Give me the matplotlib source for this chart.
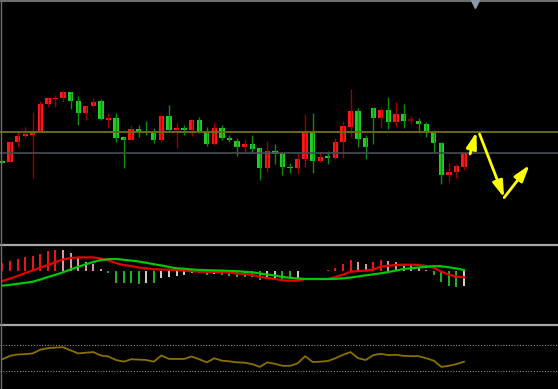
import matplotlib
matplotlib.use("Agg")
import matplotlib.pyplot as plt
from matplotlib.lines import Line2D
import numpy as np

# daily candles (red = up, green = down)
opens = [21.97, 21.90, 22.89, 23.20, 23.27, 23.44, 24.79, 25.05, 25.09, 25.39,
         24.97, 24.37, 24.70, 24.97, 24.02, 24.09, 23.14, 22.99, 23.55, 23.42,
         23.35, 22.99, 24.20, 23.52, 23.62, 23.50, 24.00, 23.40, 22.80, 23.59,
         23.12, 22.95, 22.67, 22.79, 22.59, 21.59, 22.45, 22.34, 21.67, 21.59,
         22.04, 23.42, 21.95, 22.22, 22.12, 22.92, 23.67, 24.47, 23.09, 24.59,
         24.09, 24.50, 23.92, 24.29, 24.02, 23.97, 23.82, 23.42, 22.87, 21.25,
         21.39, 21.67]
highs = [21.99, 22.90, 23.42, 23.67, 24.42, 24.97, 25.09, 25.25, 25.50, 25.42,
         25.20, 24.70, 25.12, 25.05, 24.37, 24.37, 23.17, 23.75, 23.75, 23.95,
         23.59, 24.29, 24.75, 23.89, 23.75, 24.00, 24.14, 23.67, 23.92, 23.75,
         23.25, 23.09, 23.05, 23.25, 22.59, 22.95, 22.80, 22.39, 21.84, 22.34,
         24.29, 24.37, 22.42, 22.45, 23.09, 23.95, 25.55, 24.59, 23.25, 24.67,
         24.67, 25.14, 24.92, 24.79, 24.22, 24.12, 23.89, 23.50, 22.92, 21.87,
         21.82, 22.42]
lows = [21.85, 21.90, 22.64, 23.09, 21.12, 23.44, 24.65, 24.65, 24.92, 24.54,
        23.75, 24.00, 24.65, 23.99, 23.62, 22.92, 21.62, 22.99, 23.14, 23.25,
        22.84, 22.92, 23.42, 22.59, 23.25, 23.20, 23.34, 22.72, 22.75, 23.00,
        22.92, 22.22, 22.42, 22.34, 21.00, 21.39, 21.79, 21.25, 21.37, 21.29,
        21.67, 21.34, 21.89, 21.82, 22.05, 22.12, 23.17, 22.67, 22.04, 22.79,
        23.59, 23.55, 23.67, 23.59, 23.79, 23.34, 23.17, 22.34, 20.79, 20.92,
        21.12, 21.50]
closes = [21.87, 22.90, 23.20, 23.30, 23.47, 24.80, 25.09, 25.12, 25.39, 24.97,
          24.37, 24.70, 24.90, 24.04, 24.10, 23.12, 22.99, 23.55, 23.40, 23.35,
          22.99, 24.20, 23.50, 23.62, 23.52, 24.00, 23.42, 22.80, 23.59, 23.09,
          22.99, 22.67, 22.79, 22.55, 21.59, 22.45, 22.29, 21.64, 21.62, 22.05,
          23.42, 21.95, 22.17, 22.12, 22.92, 23.70, 24.47, 23.05, 22.64, 24.09,
          24.50, 23.92, 24.29, 23.97, 24.02, 23.80, 23.42, 22.84, 21.25, 21.39,
          21.70, 22.34]

level_upper = 23.42
level_lower = 22.335

# MACD
dif = [-0.097, -0.072, -0.047, -0.017, 0.008, 0.038, 0.063, 0.093, 0.118, 0.133,
       0.138, 0.140, 0.138, 0.128, 0.108, 0.083, 0.063, 0.053, 0.038, 0.028,
       0.020, 0.018, 0.015, 0.013, 0.008, 0.001, -0.004, -0.005, -0.007, -0.009,
       -0.012, -0.022, -0.027, -0.037, -0.057, -0.067, -0.077, -0.090, -0.094, -0.094,
       -0.077, -0.077, -0.077, -0.077, -0.057, -0.034, -0.004, 0.003, 0.006, 0.020,
       0.046, 0.056, 0.063, 0.066, 0.066, 0.063, 0.053, 0.036, -0.004, -0.034,
       -0.054, -0.060]
dea = [-0.144, -0.135, -0.125, -0.115, -0.104, -0.082, -0.057, -0.035, -0.010, 0.018,
       0.045, 0.070, 0.093, 0.113, 0.121, 0.123, 0.115, 0.107, 0.098, 0.085,
       0.071, 0.058, 0.043, 0.030, 0.025, 0.019, 0.013, 0.011, 0.009, 0.007,
       0.004, 0.001, -0.005, -0.011, -0.022, -0.032, -0.042, -0.057, -0.065, -0.072,
       -0.077, -0.077, -0.077, -0.077, -0.075, -0.070, -0.062, -0.052, -0.040, -0.030,
       -0.020, -0.007, 0.008, 0.023, 0.030, 0.038, 0.045, 0.051, 0.050, 0.040,
       0.028, 0.013]
hist = [0.086, 0.106, 0.123, 0.140, 0.153, 0.173, 0.203, 0.213, 0.210, 0.180,
        0.130, 0.096, 0.073, 0.023, -0.017, -0.114, -0.118, -0.120, -0.122, -0.120,
        -0.121, -0.070, -0.060, -0.047, -0.037, -0.020, -0.021, -0.037, -0.030, -0.037,
        -0.047, -0.054, -0.055, -0.060, -0.087, -0.070, -0.065, -0.080, -0.081, -0.070,
        0.002, 0.003, 0.005, 0.017, 0.036, 0.073, 0.113, 0.096, 0.073, 0.090,
        0.113, 0.106, 0.090, 0.073, 0.063, 0.040, 0.013, -0.037, -0.104, -0.147,
        -0.160, -0.147]

# lower oscillator with 80 / 20 guide lines
osc = [47.6, 55.7, 58.9, 59.7, 61.4, 70.3, 73.5, 75.1, 75.9, 68.6,
       61.4, 63.0, 64.6, 56.5, 54.1, 45.9, 41.9, 47.6, 46.8, 45.9,
       41.9, 56.5, 48.4, 48.4, 48.4, 54.1, 47.6, 40.3, 50.0, 44.3,
       42.7, 40.3, 39.5, 36.2, 29.7, 40.3, 37.0, 32.2, 32.2, 37.8,
       54.9, 41.1, 41.9, 43.5, 50.0, 58.1, 64.6, 50.0, 45.9, 57.3,
       60.5, 57.3, 58.1, 55.7, 54.9, 54.9, 50.0, 44.3, 29.7, 32.2,
       36.2, 41.9]
osc_levels = [80, 20]

# hand-drawn yellow arrows (candle index, price)
arrows = [((61.8, 22.30), (62.65, 23.40)),
          ((63.05, 23.30), (66.3, 20.12)),
          ((66.3, 20.12), (69.65, 21.75))]

W, H = 558, 389
fig = plt.figure(figsize=(W / 100, H / 100), dpi=100, facecolor="black")


def box(top, bottom):
    return [0, 1 - bottom / H, 1, (bottom - top) / H]


ax = fig.add_axes(box(0, 244))
ax_macd = fig.add_axes(box(246, 324))
ax_osc = fig.add_axes(box(326, 389))
for a in (ax, ax_macd, ax_osc):
    a.set_facecolor("black")
    a.set_xlim(-0.33, 73.42)
    a.axis("off")

# candles
x = np.arange(len(opens))
o, h, l, c = map(np.array, (opens, highs, lows, closes))
up = c >= o
for i in x:
    body = "#ff1a1a" if up[i] else "#26cc26"
    wick = "#9a0000" if up[i] else "#0c8a0c"
    ax.vlines(i, l[i], h[i], color=wick, lw=1)
    if abs(c[i] - o[i]) < 0.02:
        ax.hlines(o[i], i - 0.35, i + 0.35, color=wick, lw=1.2)
    else:
        ax.bar(i, abs(c[i] - o[i]), bottom=min(o[i], c[i]), width=0.7,
               color=body, linewidth=0)
ax.axhline(level_upper, color="#6a6a14", lw=1.4)
ax.axhline(level_lower, color="#474c56", lw=1.2)
ax.set_ylim(17.8, 30)

for start, end in arrows:
    ax.annotate("", xy=end, xytext=start,
                arrowprops=dict(arrowstyle="-|>,head_length=0.7,head_width=0.22",
                                color="#ffff00", lw=2, shrinkA=0, shrinkB=0,
                                mutation_scale=14))

ax.plot([0, 1], [0.994, 0.994], transform=ax.transAxes, color="#6e6e6e", lw=1.5)
ax.plot(0.852, 0.982, marker="v", ms=6, color="#8a98a8",
        transform=ax.transAxes, clip_on=False)

# MACD
hv = np.array(hist)
prev = np.concatenate([[hv[0]], hv[:-1]])
cols = []
for v, p in zip(hv, prev):
    if v >= 0:
        cols.append("#ff1a1a" if v >= p else "#f2a8b4")
    else:
        cols.append("#26c426" if v <= p else "#e2e2e2")
ax_macd.vlines(x, 0, hv, colors=cols, lw=1.3)
ax_macd.plot(x, dif, color="#e00000", lw=1.6)
ax_macd.plot(x, dea, color="#00c800", lw=1.6)
ax_macd.set_ylim(-0.527, 0.253)

# oscillator
for lv in osc_levels:
    ax_osc.axhline(lv, color="#8c8c8c", lw=0.8, ls=(0, (1, 1.5)))
ax_osc.plot(x, osc, color="#8a7000", lw=1.3)
ax_osc.set_ylim(-22.4, 125.9)

# panel separators
for yy in (245, 325):
    fig.add_artist(Line2D([0, 1], [1 - yy / H] * 2, color="#a8a8a8", lw=1.6))
fig.add_artist(Line2D([0.0009, 0.0009], [0, 1], color="#6e6e6e", lw=1))

fig.savefig("out.png", dpi=100, facecolor="black")
